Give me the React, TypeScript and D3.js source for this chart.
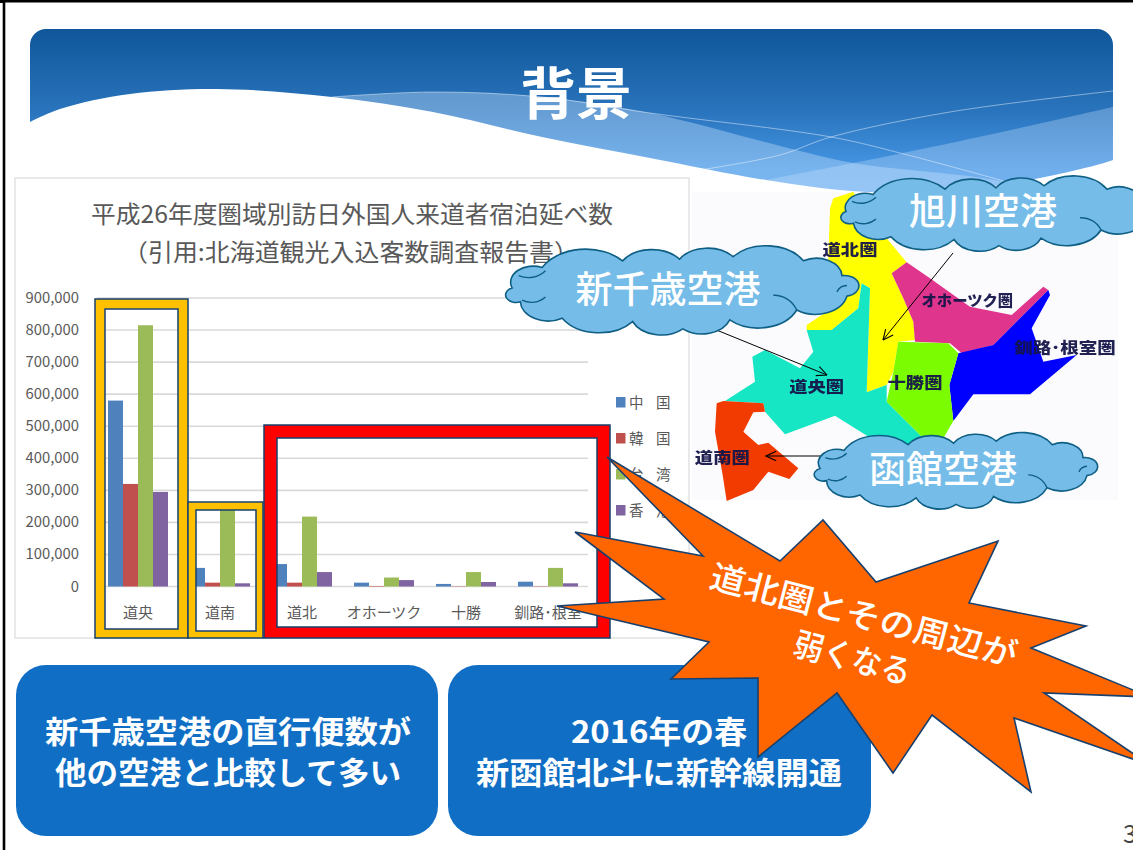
import React from "react";
import * as d3 from "d3";

const categories = ["道央", "道南", "道北", "オホーツク", "十勝", "釧路･根室"];
const seriesNames = ["中国", "韓国", "台湾", "香港"];
const seriesColors = ["#4f81bd", "#c0504d", "#9bbb59", "#8064a2"];
const china = [580000, 58000, 70000, 12000, 8000, 15000];
const korea = [320000, 12000, 12000, 1500, 1000, 1000];
const taiwan = [815000, 240000, 218000, 28000, 45000, 58000];
const hongkong = [295000, 10000, 45000, 20000, 14000, 10000];
const seriesValues = [china, korea, taiwan, hongkong];
const yTicks = [0, 100000, 200000, 300000, 400000, 500000, 600000, 700000, 800000, 900000];

type P = [number, number];
const waveEdge: P[] = [[20,127],[60,109],[130,94],[217,89],[332,97],[433,112],[542,137],[650,158],[766,180],[867,192],[960,190],[1040,178],[1113,160],[1125,154]];
const bandATop: P[] = [[332,97],[433,92],[542,97],[650,113],[788,148],[853,163],[1011,183],[1113,215]];
const bandBTop: P[] = [[766,180],[853,163],[903,153],[1011,130],[1113,107]];
const lineA: P[] = [[332,97],[433,92],[542,97],[650,113],[831,137],[900,153],[1011,183]];
const lineB: P[] = [[700,170],[780,155],[831,137],[950,112],[1113,91]];

const mapRegions: { color: string; pts: P[] }[] = [
  { color: "#ffff00", pts: [[430,70],[490,50],[520,110],[590,190],[650,262],[605,295],[640,370],[670,440],[675,495],[625,500],[610,590],[590,630],[530,652],[540,340],[515,325],[505,400],[425,465],[350,465],[350,450],[410,410],[415,250],[420,100]] },
  { color: "#12e6c4", pts: [[515,325],[540,340],[530,652],[590,630],[590,680],[700,790],[650,810],[560,800],[435,722],[285,778],[225,710],[220,685],[105,678],[195,620],[187,545],[225,525],[330,580],[370,530],[350,465],[425,465],[505,400]] },
  { color: "#e0368c", pts: [[650,262],[720,310],[840,395],[965,420],[1060,335],[1075,345],[910,510],[815,535],[780,505],[675,500],[670,440],[640,370],[605,295]] },
  { color: "#0000ff", pts: [[1075,345],[1080,360],[1025,460],[1060,560],[1160,540],[1020,658],[850,658],[790,738],[778,630],[805,535],[910,510]] },
  { color: "#7cfc00", pts: [[625,500],[775,505],[805,535],[778,630],[790,738],[760,790],[700,790],[590,680],[610,590]] },
  { color: "#f23a00", pts: [[80,685],[100,678],[220,685],[225,710],[190,712],[160,770],[205,810],[235,803],[325,880],[298,912],[235,890],[190,945],[110,978],[98,900],[75,770]] },
];
const mapLabels: { t: string; x: number; y: number; w: number }[] = [
  { t: "道北圏", x: 480, y: 222, w: 165 },
  { t: "オホーツク圏", x: 832, y: 375, w: 275 },
  { t: "道央圏", x: 380, y: 633, w: 165 },
  { t: "十勝圏", x: 675, y: 622, w: 165 },
  { t: "釧路･根室圏", x: 1125, y: 518, w: 305 },
  { t: "道南圏", x: 97, y: 848, w: 165 },
];

const starPts: P[] = [[607,457],[780,561],[823,520],[876,582],[998,541],[969,603],[1086,626],[1031,648],[1150,697],[1044,693],[1150,765],[1014,718],[1031,792],[932,715],[893,773],[837,693],[758,757],[758,678],[671,679],[709,642],[557,606],[664,599],[575,532],[703,556]];

const cloudBumps: P[] = [[0,.45],[.09,.2],[.33,.12],[.5,.1],[.66,.07],[.87,.12],[.985,.3],[1,.55],[.85,.72],[.65,.84],[.51,.95],[.36,.86],[.15,.82],[.025,.62]];
const curls: [P, P][] = [[[.1,.24],[.02,.3]],[[.78,.54],[.85,.72]],[[.97,.5],[1,.42]],[[.1,.56],[.03,.6]]];

function cloudPath(x: number, y: number, w: number, h: number) {
  const px = (p: P): P => [x + p[0] * w, y + p[1] * h];
  let d = `M${px(cloudBumps[0]).join(",")}`;
  cloudBumps.forEach((_, i) => {
    const b = px(cloudBumps[(i + 1) % cloudBumps.length]);
    const a = px(cloudBumps[i]);
    const r = Math.hypot(b[0] - a[0], b[1] - a[1]) * 0.62;
    d += `A${r},${r * 0.72} 0 0 1 ${b.join(",")}`;
  });
  return d + "Z";
}
function curlPath(x: number, y: number, w: number, h: number) {
  return curls.map(([a, b]) => {
    const ax = x + a[0] * w, ay = y + a[1] * h, bx = x + b[0] * w, by = y + b[1] * h;
    const r = Math.hypot(bx - ax, by - ay) * 0.9;
    return `M${ax},${ay}A${r},${r} 0 0 1 ${bx},${by}`;
  }).join("");
}

const jp = "'Noto Sans CJK JP', sans-serif";
const clouds = [
  { x: 846, y: 181, w: 300, h: 68, t: "旭川空港", tx: 983, ty: 225, fs: 37 },
  { x: 512, y: 251, w: 335, h: 82, t: "新千歳空港", tx: 668, ty: 303, fs: 37 },
  { x: 820, y: 436, w: 267, h: 72, t: "函館空港", tx: 943, ty: 483, fs: 37 },
];

export default function App() {
  const y = d3.scaleLinear().domain([0, 900000]).range([586.5, 298]);
  const x0 = d3.scaleBand<string>().domain(categories).range([97, 589]);
  const x1 = d3.scaleBand<string>().domain(seriesNames).range([-30, 30]);
  const fmt = d3.format(",");
  const cr = d3.line<P>().curve(d3.curveCatmullRom.alpha(0.5));
  const poly = d3.line<P>();
  const mx = d3.scaleLinear().domain([0, 3]).range([690, 691]);
  const my = d3.scaleLinear().domain([0, 3]).range([175, 176]);
  const mp = (p: P): P => [mx(p[0]), my(p[1])];
  const ring = (a: number, b: number, c: number, d: number, e: number, f: number, g: number, h: number) =>
    `M${a},${b}H${c}V${d}H${a}ZM${e},${f}H${g}V${h}H${e}Z`;
  return (
    <svg width={1133} height={850} style={{ position: "absolute", left: 0, top: 0, fontFamily: jp }}>
      <defs>
        <linearGradient id="hdr" x1="0" y1="0" x2="0" y2="1">
          <stop offset="0" stopColor="#0f5799" />
          <stop offset="0.5" stopColor="#2a74bd" />
          <stop offset="0.85" stopColor="#4596e4" />
          <stop offset="1" stopColor="#4a9be8" />
        </linearGradient>
        <clipPath id="hc"><rect x={30} y={29} width={1083} height={190} rx={16} /></clipPath>
        <filter id="soft"><feGaussianBlur stdDeviation="0.7" /></filter>
        <marker id="ah" viewBox="0 0 10 10" refX="9.5" refY="5" markerWidth="12" markerHeight="12" orient="auto">
          <path d="M1,1L9.5,5L1,9" fill="none" stroke="#000" strokeWidth="0.9" />
        </marker>
      </defs>
      <rect width={1133} height={850} fill="#fff" />
      <path d="M4,850V1.2H1133" fill="none" stroke="#000" strokeWidth={2.6} />
      <rect x={0} y={0} width={4} height={3} fill="#000" />

      <g clipPath="url(#hc)">
        <rect x={30} y={29} width={1083} height={165} fill="url(#hdr)" />
        <path d={`${cr(bandATop)}L1113,225L332,225Z`} fill="#d4e9ff" opacity={0.36} />
        <path d={`${cr(bandBTop)}L1113,225L766,225Z`} fill="#d4e9ff" opacity={0.3} />
        <path d={cr(lineA)!} fill="none" stroke="#fff" strokeOpacity={0.45} />
        <path d={cr(lineB)!} fill="none" stroke="#fff" strokeOpacity={0.45} />
        <path d={`${cr(waveEdge)}L1125,225L20,225Z`} fill="#fff" />
      </g>
      <text x={576} y={114} textAnchor="middle" fontSize={56} fontWeight={700} fill="#fff">背景</text>

      {/* chart */}
      <rect x={15} y={178} width={674} height={460} fill="#fff" stroke="#e2e2e2" strokeWidth={1.5} />
      <text x={352} y={223} textAnchor="middle" fontSize={24} fill="#595959" textLength={522} lengthAdjust="spacingAndGlyphs">平成26年度圏域別訪日外国人来道者宿泊延べ数</text>
      <text x={351} y={261} textAnchor="middle" fontSize={24} fill="#595959" textLength={456} lengthAdjust="spacingAndGlyphs">（引用:北海道観光入込客数調査報告書）</text>
      {yTicks.map((t) => (
        <g key={t}>
          <line x1={97} x2={588} y1={y(t)} y2={y(t)} stroke="#d9d9d9" strokeWidth={1.6} />
          <text x={79} y={y(t) + 5} textAnchor="end" fontSize={14.8} fill="#595959">{fmt(t)}</text>
        </g>
      ))}
      {seriesValues.map((vals, s) => vals.map((v, c) => (
        <rect key={`${s}-${c}`} x={x0(categories[c])! + x0.bandwidth() / 2 + x1(seriesNames[s])!} y={y(v)} width={x1.bandwidth()} height={y(0) - y(v)} fill={seriesColors[s]} />
      )))}
      {categories.map((c) => (
        <text key={c} x={x0(c)! + x0.bandwidth() / 2} y={618} textAnchor="middle" fontSize={15} fill="#595959">{c}</text>
      ))}
      {seriesNames.map((n, i) => (
        <g key={n}>
          <rect x={616} y={397 + i * 36} width={9.5} height={10.5} fill={seriesColors[i]} />
          <text x={629} y={408 + i * 36} fontSize={14.5} fill="#595959">{n[0]}</text>
          <text x={656} y={408 + i * 36} fontSize={14.5} fill="#595959">{n[1]}</text>
        </g>
      ))}
      <path d={ring(95,299,188,638,105,309,178,629)} fillRule="evenodd" fill="#ffc000" stroke="#17406e" strokeWidth={1.5} />
      <path d={ring(188,502,263,638,196,510,256,631)} fillRule="evenodd" fill="#ffc000" stroke="#17406e" strokeWidth={1.5} />
      <path d={ring(264,425,610,638,277,438,597,627)} fillRule="evenodd" fill="#ff0000" stroke="#17406e" strokeWidth={1.5} />

      {/* map */}
      <rect x={692} y={192} width={426} height={308} fill="#fbfbfd" />
      <g filter="url(#soft)">
        {mapRegions.map((r) => (
          <path key={r.color} d={`${poly(r.pts.map(mp))}Z`} fill={r.color} />
        ))}
      </g>
      <g filter="url(#soft)" style={{ opacity: 0.95 }}>
        {mapLabels.map((l) => (
          <text key={l.t} x={mx(l.x)} y={my(l.y) + 5.5} textAnchor="middle" fontSize={15} fontWeight={900} fill="#14144a" textLength={l.w / 3} lengthAdjust="spacingAndGlyphs">{l.t}</text>
        ))}
      </g>
      <line x1={953} y1={253} x2={883} y2={340} stroke="#000" markerEnd="url(#ah)" />
      <line x1={714} y1={329} x2={827} y2={375} stroke="#000" markerEnd="url(#ah)" />
      <line x1={826} y1={456} x2={766} y2={456} stroke="#000" markerEnd="url(#ah)" />

      {clouds.map((c) => (
        <g key={c.t}>
          <path d={cloudPath(c.x, c.y, c.w, c.h)} fill="#75bde8" stroke="#0f5f85" strokeWidth={1.6} />
          <path d={curlPath(c.x, c.y, c.w, c.h)} fill="none" stroke="#0f5f85" strokeWidth={1.4} />
          <text x={c.tx} y={c.ty} textAnchor="middle" fontSize={c.fs} fontWeight={500} fill="#fff">{c.t}</text>
        </g>
      ))}

      {/* info boxes */}
      <rect x={16} y={665} width={422} height={171} rx={30} fill="#106ec4" />
      <rect x={448} y={665} width={423} height={171} rx={30} fill="#106ec4" />
      <text x={228} y={743} textAnchor="middle" fontSize={31} fontWeight={700} fill="#fff" textLength={366} lengthAdjust="spacingAndGlyphs">新千歳空港の直行便数が</text>
      <text x={228} y={784} textAnchor="middle" fontSize={31} fontWeight={700} fill="#fff" textLength={346} lengthAdjust="spacingAndGlyphs">他の空港と比較して多い</text>
      <text x={659} y={743} textAnchor="middle" fontSize={31} fontWeight={700} fill="#fff" textLength={176} lengthAdjust="spacingAndGlyphs">2016年の春</text>
      <text x={659} y={784} textAnchor="middle" fontSize={31} fontWeight={700} fill="#fff" textLength={366} lengthAdjust="spacingAndGlyphs">新函館北斗に新幹線開通</text>

      {/* star */}
      <path d={`${poly(starPts)}Z`} fill="#ff6600" stroke="#17406e" strokeWidth={1.6} strokeLinejoin="miter" />
      <g transform="rotate(14.7 860 630)" fill="#fff" fontSize={33} fontWeight={500} textAnchor="middle">
        <text x={860} y={627} textLength={316} lengthAdjust="spacingAndGlyphs">道北圏とその周辺が</text>
        <text x={860} y={671} textLength={120} lengthAdjust="spacingAndGlyphs">弱くなる</text>
      </g>
      <text x={1123} y={843} fontSize={25} fill="#444">3</text>
    </svg>
  );
}
